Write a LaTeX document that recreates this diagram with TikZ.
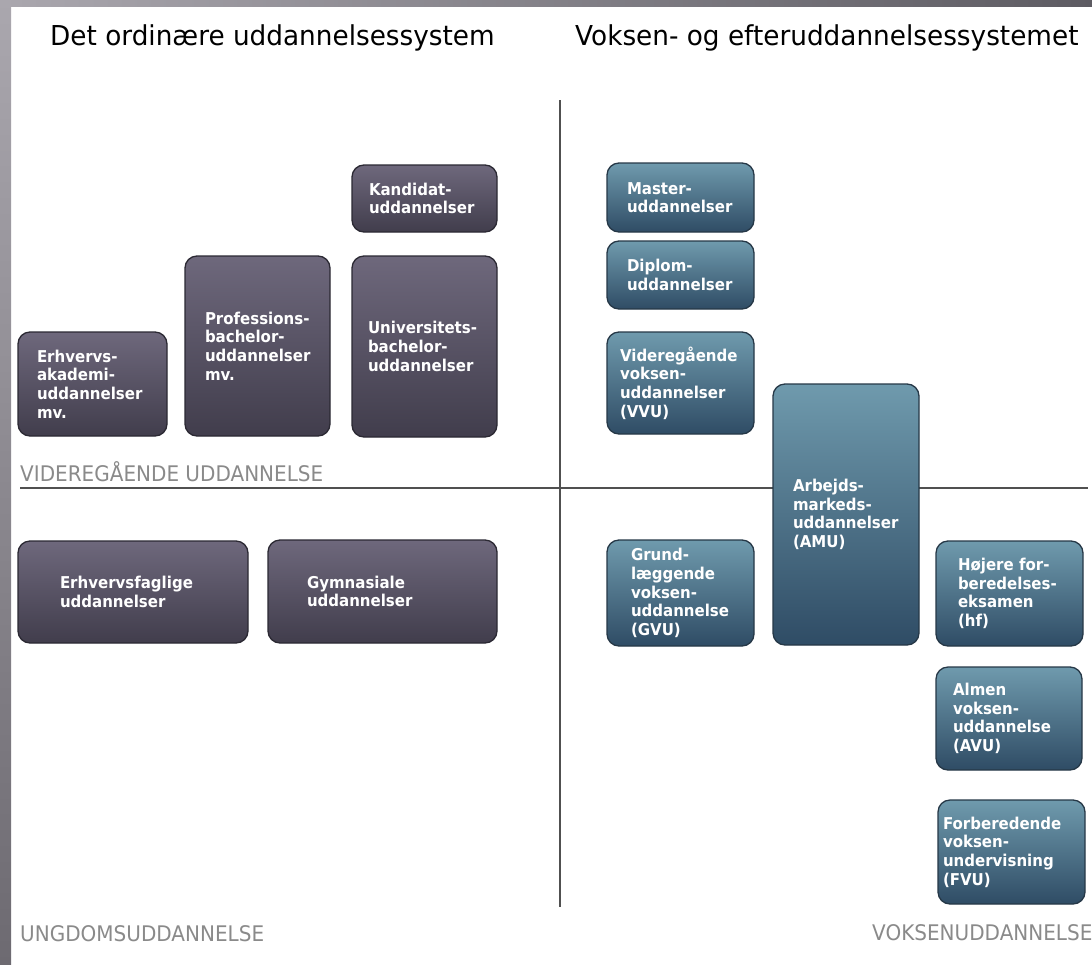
\documentclass[tikz,border=0pt]{standalone}
\usepackage{fontspec}
\setmainfont{DejaVu Sans}
\newfontfamily\boxfont{DejaVu Sans}[FakeStretch=0.92]
\newfontfamily\lblfont{DejaVu Sans}[FakeStretch=0.93]
\newfontfamily\ttlfont{DejaVu Sans}[FakeStretch=0.96]
\definecolor{purtop}{HTML}{6E687C}
\definecolor{purbot}{HTML}{413D4C}
\definecolor{purline}{HTML}{2B2933}
\definecolor{bluetop}{HTML}{6F9AAD}
\definecolor{bluebot}{HTML}{2F4C65}
\definecolor{blueline}{HTML}{263847}
\definecolor{frameA}{HTML}{AAA7AE}
\definecolor{frameB}{HTML}{5D5B62}
\definecolor{frameC}{HTML}{6D6A71}
\definecolor{axis}{HTML}{505050}
\definecolor{lbl}{HTML}{8A8A8A}
\tikzset{
  boxbase/.style={rectangle, rounded corners=12pt, line width=1.3pt, text=white,
    font=\boxfont\fontsize{16.3pt}{18.6pt}\selectfont\bfseries, align=left, inner ysep=0pt},
  purbox/.style={boxbase, draw=purline, top color=purtop, bottom color=purbot},
  bluebox/.style={boxbase, draw=blueline, top color=bluetop, bottom color=bluebot},
  title/.style={font=\ttlfont\fontsize{27.4pt}{30pt}\selectfont, text=black, inner sep=0pt},
  level/.style={font=\lblfont\fontsize{21.5pt}{24pt}\selectfont, text=lbl, inner sep=0pt},
  axisline/.style={draw=axis, line width=1.5pt}
}
\newcommand\edubox[8]{%
  \pgfmathsetmacro\bw{#5-#3}%
  \pgfmathsetmacro\bh{#6-#4}%
  \pgfmathsetmacro\tw{#5-#3-2*#7}%
  \pgfmathsetmacro\cx{(#3+#5)/2}%
  \pgfmathsetmacro\cy{(#4+#6)/2}%
  \node[#2, minimum width=\bw pt, minimum height=\bh pt, text width=\tw pt, inner xsep=#7pt] (#1) at (\cx,\cy) {#8};}
\begin{document}
\begin{tikzpicture}[x=1pt,y=-1pt]
\useasboundingbox (0,0) rectangle (1092,964);
\fill[white] (0,0) rectangle (1092,964);
% frame strips
\shade[left color=frameA, right color=frameB] (0,0) rectangle (1092,6);
\shade[top color=frameA, bottom color=frameC] (0,0) rectangle (11,964);
% titles
\node[title, anchor=base west] (t1) at (50,45) {Det ordinære uddannelsessystem};
\node[title, anchor=base west] (t2) at (575,45) {Voksen- og efteruddannelsessystemet};
% axes
\coordinate (vtop) at (560,100);
\coordinate (vbot) at (560,907);
\coordinate (hl) at (20,488);
\coordinate (hr) at (1088,488);
\draw[axisline] (vtop) -- (vbot);
\draw[axisline] (hl) -- (hr);
% level labels
\node[level, anchor=base west] (l1) at (20,481) {VIDEREGÅENDE UDDANNELSE};
\node[level, anchor=base west] (l2) at (20,941) {UNGDOMSUDDANNELSE};
\node[level, anchor=base west] (l3) at (872,940) {VOKSENUDDANNELSE};
% ordinary system
\edubox{kand}{purbox}{352}{165}{497}{232}{17}{Kandidat-\\uddannelser}
\edubox{prof}{purbox}{185}{256}{330}{436}{20}{Professions-\\bachelor-\\uddannelser\\mv.}
\edubox{univ}{purbox}{352}{256}{497}{437}{16}{Universitets-\\bachelor-\\uddannelser}
\edubox{erhv}{purbox}{18}{332}{167}{436}{19}{Erhvervs-\\akademi-\\uddannelser\\mv.}
\edubox{erhvf}{purbox}{18}{541}{248}{643}{42}{Erhvervsfaglige\\uddannelser}
\edubox{gymn}{purbox}{268}{540}{497}{643}{39}{Gymnasiale\\uddannelser}
% adult system
\edubox{master}{bluebox}{607}{163}{754}{232}{20}{Master-\\uddannelser}
\edubox{diplom}{bluebox}{607}{241}{754}{309}{20}{Diplom-\\uddannelser}
\edubox{vvu}{bluebox}{607}{332}{754}{434}{13}{Videregående\\voksen-\\uddannelser\\(VVU)}
\edubox{amu}{bluebox}{773}{384}{919}{645}{20}{Arbejds-\\markeds-\\uddannelser\\(AMU)}
\edubox{gvu}{bluebox}{607}{540}{754}{646}{24}{Grund-\\læggende\\voksen-\\uddannelse\\(GVU)}
\edubox{hf}{bluebox}{936}{541}{1083}{646}{22}{Højere for-\\beredelses-\\eksamen\\(hf)}
\edubox{avu}{bluebox}{936}{667}{1082}{770}{17}{Almen\\voksen-\\uddannelse\\(AVU)}
\edubox{fvu}{bluebox}{938}{800}{1085}{904}{5}{Forberedende\\voksen-\\undervisning\\(FVU)}
\end{tikzpicture}
\end{document}
